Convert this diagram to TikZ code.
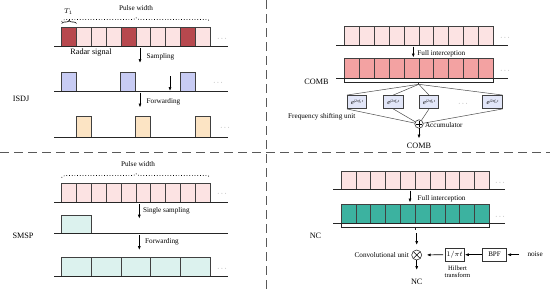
\documentclass[tikz,border=0pt]{standalone}
\usepackage{fontspec}
\setmainfont{Liberation Serif}
\usetikzlibrary{arrows.meta,decorations.pathreplacing}
\definecolor{dred}{HTML}{B7484E}
\definecolor{lpink}{HTML}{FCE3E3}
\definecolor{salmon}{HTML}{F3A2A2}
\definecolor{lblue}{HTML}{C8CCF4}
\definecolor{peach}{HTML}{FCE4C4}
\definecolor{lcyan}{HTML}{DCF2EE}
\definecolor{teal2}{HTML}{3CB2A0}
\definecolor{lav}{HTML}{E2E6F8}
\newcommand{\fexp}[1]{\textit{e}\raisebox{2.2pt}{\fontsize{3.8}{3.8}\selectfont\itshape j2πf\textsubscript{#1}t}}
\begin{document}
\begin{tikzpicture}[x=1pt,y=-1pt,
  cell/.style 2 args={draw=black!75, line width=0.6pt, inner sep=0pt, outer sep=0pt,
     anchor=south west, minimum width=#1, minimum height=#2},
  baseln/.style={draw=black!85, line width=0.9pt},
  arr/.style={-{Latex[length=4pt,width=3pt]}, line width=0.7pt, black},
  lab/.style={font=\fontsize{7.2}{8}\selectfont, inner sep=0pt},
  big/.style={font=\fontsize{8.2}{9}\selectfont, inner sep=0pt},
  dotsn/.style={font=\fontsize{7}{8}\selectfont, inner sep=0pt, text=black!60},
  fbox/.style={draw=black!75, fill=lav, line width=0.6pt, inner sep=0pt,
     minimum width=19.5pt, minimum height=13.3pt, font=\fontsize{6.5}{6.5}\selectfont},
  sbox/.style={draw=black!80, line width=0.7pt, inner sep=0pt,
     minimum width=19.5pt, minimum height=12.7pt, font=\fontsize{7}{8}\selectfont},
  fan/.style={draw=black!70, line width=0.5pt},
  divider/.style={draw=black!65, line width=1.1pt, dash pattern=on 9pt off 5pt}
]
\useasboundingbox (0,0) rectangle (550,293);

% ---------- dividers ----------
\coordinate (hL) at (0,152.5); \coordinate (hR) at (550,152.5);
\coordinate (vT) at (266.3,0); \coordinate (vB) at (266.3,293);
\draw[divider] (hL) -- (hR);
\draw[divider] (vT) -- (vB);

% ================= ISDJ (top-left) =================
\foreach \i/\c in {0/dred,1/lpink,2/lpink,3/lpink,4/dred,5/lpink,6/lpink,7/lpink,8/dred,9/lpink}{
  \pgfmathsetmacro\xx{61.7+\i*14.83}
  \node[cell={14.83pt}{19.5pt}, fill=\c] (tla\i) at (\xx,46.5) {};
}
\coordinate (tlb1a) at (54.3,46.5); \coordinate (tlb1b) at (228.3,46.5);
\draw[baseln] (tlb1a) -- (tlb1b);
\node[dotsn] (tld1) at (222,39) {$\cdots$};
% braces
\coordinate (tlpw1) at (61.7,21.5); \coordinate (tlpw2) at (210,21.5);
\draw[dotted, line width=0.7pt, decorate, decoration={brace, amplitude=4pt}] (tlpw1) -- (tlpw2);
\node[lab] (tlpwl) at (136,8.5) {Pulse width};
\coordinate (tlt1) at (61.7,23.5); \coordinate (tlt2) at (76.5,23.5);
\draw[line width=0.6pt, decorate, decoration={brace, amplitude=3pt}] (tlt1) -- (tlt2);
\node[lab] (tlT) at (68.5,11.5) {$T_1$};
\node[big] (radar) at (91,52.8) {Radar signal};
% sampling arrow
\coordinate (tls1) at (140,48); \coordinate (tls2) at (140,63);
\draw[arr] (tls1) -- (tls2);
\node[lab, anchor=west] (samp) at (146.5,57) {Sampling};
% row 2
\foreach \x [count=\k] in {61.7,120.7,180}{
  \node[cell={14.83pt}{19pt}, fill=lblue] (tlp\k) at (\x,91) {};
}
\coordinate (tlb2a) at (54.3,91); \coordinate (tlb2b) at (228.3,91);
\draw[baseln] (tlb2a) -- (tlb2b);
\node[dotsn] (tld2) at (218,83) {$\cdots$};
\coordinate (tlm1) at (170,76); \coordinate (tlm2) at (170,91);
\draw[arr] (tlm1) -- (tlm2);
\node[big] (isdj) at (21,99) {ISDJ};
% forwarding
\coordinate (tlf1) at (140,92.5); \coordinate (tlf2) at (140,107.5);
\draw[arr] (tlf1) -- (tlf2);
\node[lab, anchor=west] (fwd1) at (146.5,101.5) {Forwarding};
% row 3
\foreach \x [count=\k] in {76.5,135.5,195}{
  \node[cell={14.83pt}{21.5pt}, fill=peach] (tlq\k) at (\x,137.5) {};
}
\coordinate (tlb3a) at (54.3,137.5); \coordinate (tlb3b) at (228.3,137.5);
\draw[baseln] (tlb3a) -- (tlb3b);
\node[dotsn] (tld3) at (225,128) {$\cdots$};

% ================= SMSP (bottom-left) =================
\coordinate (blpw1) at (61.7,177.5); \coordinate (blpw2) at (210,177.5);
\draw[dotted, line width=0.7pt, decorate, decoration={brace, amplitude=4pt}] (blpw1) -- (blpw2);
\node[lab] (blpwl) at (138,164.5) {Pulse width};
\foreach \i in {0,...,9}{
  \pgfmathsetmacro\xx{61.7+\i*14.83}
  \node[cell={14.83pt}{19.5pt}, fill=lpink] (bla\i) at (\xx,202.5) {};
}
\coordinate (blb1a) at (54.3,202.5); \coordinate (blb1b) at (228.3,202.5);
\draw[baseln] (blb1a) -- (blb1b);
\node[dotsn] (bld1) at (222,194) {$\cdots$};
\coordinate (bls1) at (139.3,204); \coordinate (bls2) at (139.3,218.7);
\draw[arr] (bls1) -- (bls2);
\node[lab, anchor=west] (ssamp) at (142.8,211) {Single sampling};
\node[cell={29.6pt}{18.5pt}, fill=lcyan] (blp1) at (61.7,233.5) {};
\coordinate (blb2a) at (54.3,233.5); \coordinate (blb2b) at (228.3,233.5);
\draw[baseln] (blb2a) -- (blb2b);
\node[big] (smsp) at (23,236) {SMSP};
\coordinate (blf1) at (139.3,235.3); \coordinate (blf2) at (139.3,250);
\draw[arr] (blf1) -- (blf2);
\node[lab, anchor=west] (fwd2) at (145,241.7) {Forwarding};
\foreach \i in {0,...,4}{
  \pgfmathsetmacro\xx{61.7+\i*29.66}
  \node[cell={29.66pt}{18.3pt}, fill=lcyan] (blq\i) at (\xx,276) {};
}
\coordinate (blb3a) at (54.3,276); \coordinate (blb3b) at (228.3,276);
\draw[baseln] (blb3a) -- (blb3b);
\node[dotsn] (bld3) at (222,269) {$\cdots$};

% ================= COMB (top-right) =================
\foreach \i in {0,...,9}{
  \pgfmathsetmacro\xx{344.3+\i*14.9}
  \node[cell={14.9pt}{19.5pt}, fill=lpink] (tra\i) at (\xx,45.5) {};
}
\coordinate (trb1a) at (336,45.5); \coordinate (trb1b) at (508,45.5);
\draw[baseln] (trb1a) -- (trb1b);
\node[dotsn] (trd1) at (505,37.7) {$\cdots$};
\coordinate (trs1) at (413.3,46.5); \coordinate (trs2) at (413.3,57.5);
\draw[arr] (trs1) -- (trs2);
\node[lab, anchor=west] (fi1) at (417.2,53.3) {Full interception};
\foreach \i in {0,...,9}{
  \pgfmathsetmacro\xx{344.3+\i*14.9}
  \node[cell={14.9pt}{19.7pt}, fill=salmon] (trc\i) at (\xx,78) {};
}
\coordinate (trb2a) at (336,78); \coordinate (trb2b) at (508,78);
\draw[baseln] (trb2a) -- (trb2b);
\node[dotsn] (trd2) at (505,71) {$\cdots$};
% bracket
\coordinate (trk1) at (344.3,78); \coordinate (trk2) at (344.3,82.3);
\coordinate (trk3) at (493.3,82.3); \coordinate (trk4) at (493.3,78);
\coordinate (trkm) at (418.8,82.3); \coordinate (hub) at (418.8,84.3);
\draw[line width=0.8pt, black!85] (trk1) -- (trk2) -- (trk3) -- (trk4);
\draw[line width=0.8pt, black!85] (trkm) -- (hub);
\node[big] (comb1) at (316.5,81.5) {COMB};
% frequency shifting boxes
\node[fbox] (fs1) at (357,102) {\fexp{1}};
\node[fbox] (fs2) at (393.3,102) {\fexp{2}};
\node[fbox] (fs3) at (429,102) {\fexp{3}};
\node[fbox] (fs4) at (492.5,102) {\fexp{n}};
\node[dotsn] (fsd) at (463,104) {$\cdots$};
\node[circle, draw=black!80, line width=0.6pt, minimum size=8.4pt, inner sep=0pt, outer sep=0pt, fill=white] (acc) at (419,124) {};
\draw[line width=0.6pt, shorten >=1.3pt, shorten <=1.3pt] (acc.north) -- (acc.south);
\draw[line width=0.6pt, shorten >=1.3pt, shorten <=1.3pt] (acc.west) -- (acc.east);
\draw[fan] (hub) -- (fs1.north west);
\draw[fan] (hub) -- (fs2.north);
\draw[fan] (hub) -- (fs3.north);
\draw[fan] (hub) -- (fs4.north east);
\draw[fan] (fs1.south west) -- (acc);
\draw[fan] (fs2.south) -- (acc);
\draw[fan] (fs3.south) -- (acc);
\draw[fan] (fs4.south east) -- (acc);
\node[lab, anchor=west] (fsu) at (288,116.5) {Frequency shifting unit};
\node[lab, anchor=west] (accl) at (424.8,125) {Accumulator};
\coordinate (acco) at (419,138.5);
\draw[arr] (acc.south) -- (acco);
\node[big] (comb2) at (419,146.3) {COMB};

% ================= NC (bottom-right) =================
\foreach \i in {0,...,9}{
  \pgfmathsetmacro\xx{341+\i*14.83}
  \node[cell={14.83pt}{18.5pt}, fill=lpink] (bra\i) at (\xx,189.5) {};
}
\coordinate (brb1a) at (333,189.5); \coordinate (brb1b) at (505,189.5);
\draw[baseln] (brb1a) -- (brb1b);
\node[dotsn] (brd1) at (500,182.7) {$\cdots$};
\coordinate (brs1) at (410,190.5); \coordinate (brs2) at (410,202.5);
\draw[arr] (brs1) -- (brs2);
\node[lab, anchor=west] (fi2) at (417.5,198.7) {Full interception};
\foreach \i in {0,...,9}{
  \pgfmathsetmacro\xx{341+\i*14.83}
  \node[cell={14.83pt}{19.2pt}, fill=teal2] (brc\i) at (\xx,223.5) {};
}
\coordinate (brb2a) at (333,223.5); \coordinate (brb2b) at (505,223.5);
\draw[baseln] (brb2a) -- (brb2b);
\node[dotsn] (brd2) at (500,216.7) {$\cdots$};
\coordinate (brk1) at (341,223.5); \coordinate (brk2) at (341,227.8);
\coordinate (brk3) at (489.3,227.8); \coordinate (brk4) at (489.3,223.5);
\coordinate (brkm) at (415.2,227.8); \coordinate (brkt) at (415.2,229.8);
\draw[line width=0.8pt, black!85] (brk1) -- (brk2) -- (brk3) -- (brk4);
\draw[line width=0.8pt, black!85] (brkm) -- (brkt);
\node[big] (nc1) at (315.5,236) {NC};
\node[circle, draw=black!80, line width=0.6pt, minimum size=10pt, inner sep=0pt, outer sep=0pt] (conv) at (416.7,255) {};
\draw[line width=0.6pt, shorten >=0.6pt, shorten <=0.6pt] (conv.north east) -- (conv.south west);
\draw[line width=0.6pt, shorten >=0.6pt, shorten <=0.6pt] (conv.north west) -- (conv.south east);
\coordinate (ncin) at (416.7,233);
\draw[arr, shorten >=5pt] (ncin) -- (conv.north);
\node[lab, anchor=east] (convl) at (409,255) {Convolutional unit};
\coordinate (ncout) at (416.7,270);
\draw[arr] (conv.south) -- (ncout);
\node[big] (nc2) at (416.7,282) {NC};
\node[sbox] (hil) at (454.7,254.7) {$1/\pi t$};
\node[sbox, minimum width=24.4pt] (bpf) at (494.5,254.7) {BPF};
\node[lab, anchor=west, inner sep=0pt] (noise) at (527.3,254) {noise};
\coordinate (noiseo) at (519,254.7);
\draw[arr] (noiseo) -- (bpf.east);
\draw[arr] (bpf.west) -- (hil.east);
\draw[arr, shorten >=5pt, shorten <=1.5pt] (hil.west) -- (conv.east);
\node[lab, align=center, font=\fontsize{6.6}{6.8}\selectfont] (hilt) at (457.5,271.5) {Hilbert\\transform};
\end{tikzpicture}
\end{document}
